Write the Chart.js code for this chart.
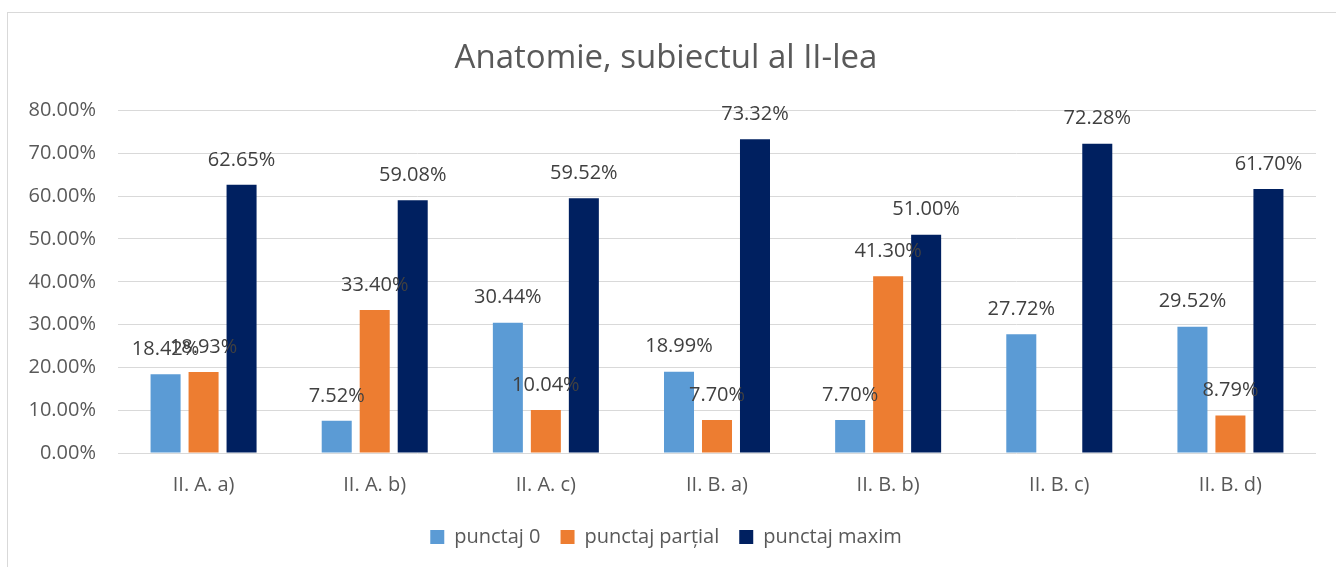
<!DOCTYPE html>
<html>
<head>
<meta charset="utf-8">
<script src="https://cdn.jsdelivr.net/npm/chart.js@4.4.1/dist/chart.umd.min.js"></script>
<style>
  html, body { margin: 0; padding: 0; background: #ffffff; overflow: hidden; }
  #wrap { position: relative; width: 1336px; height: 567px; }
  #frame { position: absolute; left: 7px; top: 12px; width: 1340px; height: 600px; border: 1px solid #d9d9d9; box-sizing: border-box; pointer-events: none; }
  canvas { position: absolute; left: 0; top: 0; }
</style>
</head>
<body>
<div id="wrap">
  <canvas id="c" width="1336" height="567"></canvas>
  <div id="frame"></div>
</div>
<script>
const categories = ["II. A. a)", "II. A. b)", "II. A. c)", "II. B. a)", "II. B. b)", "II. B. c)", "II. B. d)"];
const punctaj0 = [18.42, 7.52, 30.44, 18.99, 7.70, 27.72, 29.52];
const punctajPartial = [18.93, 33.40, 10.04, 7.70, 41.30, null, 8.79];
const punctajMaxim = [62.65, 59.08, 59.52, 73.32, 51.00, 72.28, 61.70];
const seriesNames = ["punctaj 0", "punctaj parțial", "punctaj maxim"];
const yTicks = [0, 10, 20, 30, 40, 50, 60, 70, 80];

const FONT = "'Open Sans', 'Noto Sans', sans-serif";

const dataLabels = {
  id: 'dataLabels',
  afterDatasetsDraw(chart) {
    const ctx = chart.ctx;
    ctx.save();
    ctx.font = "20px " + FONT;
    ctx.fillStyle = "#404040";
    ctx.textAlign = "center";
    ctx.textBaseline = "middle";
    chart.data.datasets.forEach((ds, i) => {
      const meta = chart.getDatasetMeta(i);
      meta.data.forEach((bar, j) => {
        const v = ds.data[j];
        if (v === null || v === undefined) return;
        ctx.fillText(v.toFixed(2) + "%", bar.x, bar.y - 25);
      });
    });
    ctx.restore();
  }
};

new Chart(document.getElementById('c'), {
  type: 'bar',
  data: {
    labels: categories,
    datasets: [
      { label: seriesNames[0], data: punctaj0, backgroundColor: '#5b9bd5' },
      { label: seriesNames[1], data: punctajPartial, backgroundColor: '#ed7d31' },
      { label: seriesNames[2], data: punctajMaxim, backgroundColor: '#002060' }
    ]
  },
  options: {
    responsive: false,
    animation: false,
    devicePixelRatio: 1,
    layout: { padding: { left: 16, right: 20, top: 0, bottom: 10 } },
    datasets: { bar: { categoryPercentage: 0.666, barPercentage: 0.79, borderWidth: 0 } },
    scales: {
      x: {
        grid: { display: false, drawTicks: false },
        border: { display: false },
        ticks: { color: '#595959', font: { family: FONT, size: 20 }, padding: 20, maxRotation: 0 },
        afterFit(scale) { scale.height = 54; }
      },
      y: {
        min: 0, max: 80,
        afterBuildTicks(scale) { scale.ticks = yTicks.map(v => ({ value: v })); },
        grid: { color: '#d9d9d9', lineWidth: 1, drawTicks: false },
        border: { display: false },
        ticks: {
          color: '#595959', font: { family: FONT, size: 20 }, padding: 22,
          callback: v => Number(v).toFixed(2) + '%'
        },
        afterFit(scale) { scale.width = 102; }
      }
    },
    plugins: {
      title: {
        display: true,
        text: 'Anatomie, subiectul al II-lea',
        color: '#595959',
        font: { family: FONT, size: 33, weight: 'normal' },
        padding: { top: 39, bottom: 32 }
      },
      legend: {
        position: 'bottom',
        labels: {
          color: '#595959',
          font: { family: FONT, size: 20 },
          boxWidth: 14, boxHeight: 14,
          padding: 20
        }
      },
      tooltip: { enabled: false }
    }
  },
  plugins: [dataLabels]
});
</script>
</body>
</html>
